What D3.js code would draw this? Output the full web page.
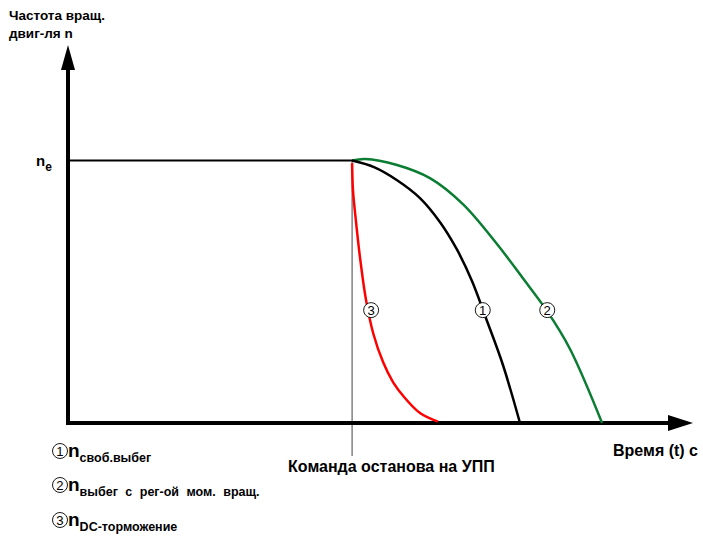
<!DOCTYPE html>
<html><head><meta charset="utf-8">
<script src="https://cdn.jsdelivr.net/npm/d3@7/dist/d3.min.js"></script>
<style>body{margin:0;background:#fff}svg{display:block}text{font-family:"Liberation Sans",Arial,sans-serif;font-weight:bold}</style>
</head><body><svg id="c" width="703" height="541"></svg>
<script>
// time (arbitrary units), speed n relative to n_e
const tStop = 10;
const tMax = 22, nMax = 1.44;
const curve1 = [[10,1],[10.77,0.975],[11.57,0.926],[12.39,0.857],[13.09,0.766],[13.68,0.663],[14.22,0.541],[14.71,0.40],[15.31,0.221],[15.91,0]];
const curve2 = [[10,1],[10.46,1.006],[11.58,0.983],[12.74,0.933],[13.9,0.834],[15.1,0.682],[15.98,0.556],[16.86,0.427],[17.67,0.282],[18.8,0]];
const curve3 = [[10,0.99],[10.03,0.888],[10.12,0.785],[10.28,0.629],[10.49,0.469],[10.75,0.339],[11.09,0.232],[11.44,0.156],[11.83,0.099],[12.39,0.038],[13.02,0.005]];
const flat = [[0,1],[tStop,1]];
const curveLabels = [["3",10.67,0.43],["1",14.6,0.43],["2",16.87,0.43]];
const legendItems = [["1","своб.выбег"],["2","выбег с рег-ой мом. вращ."],["3","DC-торможение"]];

const svg = d3.select("#c");
const x = d3.scaleLinear().domain([0,tMax]).range([68,693]);
const y = d3.scaleLinear().domain([0,nMax]).range([423,45]);
const line = d3.line().x(d=>x(d[0])).y(d=>y(d[1])).curve(d3.curveCatmullRom.alpha(0.5));

// vertical command line
svg.append("line").attr("x1",x(tStop)).attr("x2",x(tStop)).attr("y1",y(1)).attr("y2",456)
  .attr("stroke","#444").attr("stroke-width",1);

// axes
svg.append("line").attr("x1",x(0)).attr("x2",x(0)).attr("y1",y(0)+2).attr("y2",y(nMax)+20).attr("stroke","#000").attr("stroke-width",4);
svg.append("path").attr("d",`M${x(0)},${y(nMax)} L${x(0)-7},${y(nMax)+25} L${x(0)+7},${y(nMax)+25}Z`).attr("fill","#000");
svg.append("line").attr("x1",x(0)-2).attr("x2",x(tMax)-20).attr("y1",y(0)).attr("y2",y(0)).attr("stroke","#000").attr("stroke-width",4);
svg.append("path").attr("d",`M${x(tMax)},${y(0)} L${x(tMax)-25},${y(0)-8} L${x(tMax)-25},${y(0)+8}Z`).attr("fill","#000");

// curves
svg.append("path").attr("d",line(flat)).attr("fill","none").attr("stroke","#000").attr("stroke-width",2);
svg.append("path").attr("d",line(curve2)).attr("fill","none").attr("stroke","#0a7d32").attr("stroke-width",2.5);
svg.append("path").attr("d",line(curve1)).attr("fill","none").attr("stroke","#000").attr("stroke-width",2.5);
svg.append("path").attr("d",line(curve3)).attr("fill","none").attr("stroke","#f00").attr("stroke-width",2.5);

function circled(g, cx, cy, d, r){
  g.append("circle").attr("cx",cx).attr("cy",cy).attr("r",r).attr("fill","#fff").attr("stroke","#000").attr("stroke-width",0.9);
  g.append("text").attr("x",cx).attr("y",cy+r*0.62).attr("text-anchor","middle").attr("font-size",r*1.75).style("font-weight","normal").text(d);
}
curveLabels.forEach(([d,t,n])=>circled(svg,x(t),y(n),d,7.5));

// axis labels
svg.append("text").attr("x",9).attr("y",20).attr("font-size",13.5).text("Частота вращ.");
svg.append("text").attr("x",9).attr("y",38).attr("font-size",13.5).text("двиг-ля n");
const ne = svg.append("text").attr("x",36).attr("y",y(1)+5).attr("font-size",15);
ne.append("tspan").text("n");
ne.append("tspan").attr("dy",5).attr("font-size",12).text("e");
svg.append("text").attr("x",698).attr("y",456).attr("text-anchor","end").attr("font-size",16).text("Время (t) с");
svg.append("text").attr("x",x(tStop)-64).attr("y",472).attr("font-size",16).text("Команда останова на УПП");

// legend
const ly = [451, 485, 520];
legendItems.forEach(([d,s],i)=>{
  circled(svg,60,ly[i],d,7.5);
  const t = svg.append("text").attr("x",68).attr("y",ly[i]+6).attr("font-size",19);
  t.append("tspan").text("n");
  t.append("tspan").attr("dy",5).attr("font-size",12.5).attr("word-spacing",4).text(s);
});
</script></body></html>
